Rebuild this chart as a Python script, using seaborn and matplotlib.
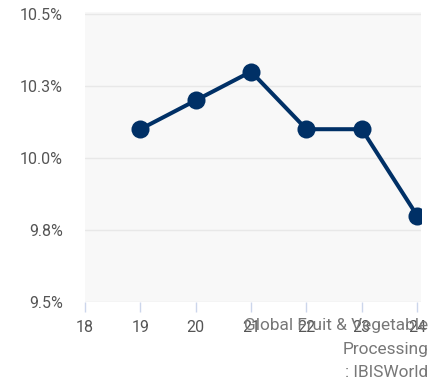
import matplotlib
matplotlib.use("Agg")
import matplotlib.pyplot as plt
import seaborn as sns
import pandas as pd
from decimal import Decimal, ROUND_HALF_UP
from matplotlib.ticker import FuncFormatter

years = [19, 20, 21, 22, 23, 24]
margin = [10.1, 10.2, 10.3, 10.1, 10.1, 9.8]
x_ticks = [18, 19, 20, 21, 22, 23, 24]
y_ticks = [9.5, 9.75, 10.0, 10.25, 10.5]
source = "Global Fruit & Vegetable\nProcessing\n: IBISWorld"

sns.set_theme(style="white")
plt.rcParams["font.family"] = ["Roboto", "DejaVu Sans"]

df = pd.DataFrame({"year": years, "margin": margin})


def pct(v, pos):
    d = Decimal(str(v)).quantize(Decimal("0.1"), rounding=ROUND_HALF_UP)
    return f"{d}%"


fig = plt.figure(figsize=(4.42, 3.87), dpi=100)
ax = fig.add_axes([85 / 442, 85 / 387, 336 / 442, 290 / 387])
ax.set_facecolor("#f8f8f8")

sns.lineplot(data=df, x="year", y="margin", ax=ax, color="#003066",
             linewidth=2.9, marker="o", markersize=13, markeredgewidth=0,
             zorder=3)

ax.set_xlim(18, 24.07)
ax.set_ylim(9.5, 10.507)
ax.set_xticks(x_ticks)
ax.set_yticks(y_ticks)
ax.yaxis.set_major_formatter(FuncFormatter(pct))
ax.grid(axis="y", color="#e8e8e8", linewidth=1)
ax.grid(axis="x", visible=False)
ax.set_axisbelow(True)
for s in ax.spines.values():
    s.set_visible(False)
ax.tick_params(axis="y", length=0, pad=16, labelsize=11.5, labelcolor="#555555")
ax.tick_params(axis="x", length=7.5, width=1, color="#ccd6eb", pad=5.5,
               labelsize=11.5, labelcolor="#555555", bottom=True)
ax.set_xlabel("")
ax.set_ylabel("")

fig.text(428 / 442, 1 - 318 / 387, source, ha="right", va="top",
         fontsize=12.4, color="#777777", linespacing=1.72)

fig.savefig("out.png", dpi=100, facecolor="white")
